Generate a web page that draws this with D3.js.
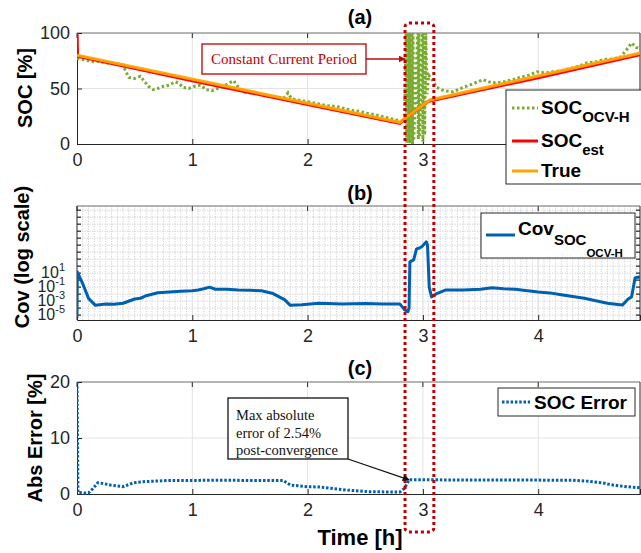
<!DOCTYPE html>
<html>
<head>
<meta charset="utf-8">
<script src="https://cdn.jsdelivr.net/npm/d3@7"></script>
<style>
  html, body { margin: 0; padding: 0; background: #fff; }
  svg { display: block; font-family: "Liberation Sans", Arial, sans-serif; }
</style>
</head>
<body>
<svg id="chart" width="641" height="553"></svg>
<script>
// ---- data ----
const timeTicks = [0, 1, 2, 3, 4];
const socTicks = [0, 50, 100];
const errTicks = [0, 10, 20];
const covTickExponents = [1, -1, -3, -5];

// SOC from the OCV-H model [h, %]
const socOcvH = [
  [0, 77], [0.05, 76], [0.1, 75], [0.15, 74], [0.2, 74.5], [0.25, 73], [0.3, 72.5], [0.35, 72],
  [0.4, 71], [0.42, 66], [0.45, 60], [0.5, 59], [0.55, 61], [0.58, 57], [0.62, 52], [0.66, 49],
  [0.7, 50], [0.75, 52], [0.8, 53], [0.85, 56], [0.88, 55], [0.92, 51], [0.97, 50], [1.02, 52],
  [1.07, 53], [1.12, 49], [1.17, 48], [1.22, 50], [1.27, 52], [1.32, 55], [1.36, 57], [1.4, 51],
  [1.44, 47], [1.5, 46], [1.55, 46], [1.6, 44], [1.65, 43], [1.7, 43], [1.75, 42], [1.8, 42],
  [1.83, 46], [1.86, 41], [1.9, 40], [2.0, 38], [2.1, 36], [2.2, 34], [2.25, 34], [2.3, 32.5],
  [2.4, 30], [2.45, 29.5], [2.5, 28], [2.6, 26], [2.68, 24], [2.75, 22], [2.8, 21], [2.84, 20],
  [2.855, 100], [2.86, 1], [2.865, 100], [2.87, 0], [2.875, 100], [2.88, 2], [2.885, 100],
  [2.89, 0], [2.895, 100], [2.9, 1], [2.905, 100], [2.91, 0], [2.915, 100], [2.92, 3],
  [2.955, 100], [2.96, 4], [2.965, 100], [2.97, 6], [2.995, 100], [3.0, 2], [3.005, 100],
  [3.015, 8], [3.025, 100], [3.035, 45], [3.05, 62], [3.08, 58], [3.12, 51], [3.18, 48],
  [3.26, 47], [3.35, 51], [3.43, 54], [3.52, 58], [3.6, 55], [3.7, 56], [3.78, 58], [3.84, 60],
  [3.92, 62], [3.99, 65], [4.06, 64], [4.13, 65], [4.2, 66], [4.28, 68], [4.35, 70], [4.42, 73],
  [4.5, 74], [4.56, 76], [4.63, 76.5], [4.71, 78], [4.76, 84], [4.81, 91], [4.85, 87], [4.89, 86]
];

// estimated SOC [h, %]
const socEst = [
  [0, 100], [0.004, 79], [0.2, 74.8], [1.0, 57], [2.0, 35.6], [2.8, 18.6], [2.85, 23.5],
  [3.05, 38.5], [4.0, 59.8], [4.89, 80.8]
];

// true SOC [h, %]
const socTrue = [
  [0, 80], [2.8, 19.5], [3.06, 39.6], [4.89, 82]
];

// covariance of the OCV-H SOC [h, value]
const covSoc = [
  [0, 4e-6], [0.003, 15], [0.05, 0.3], [0.1, 2.5e-3], [0.16, 2.5e-4], [0.25, 4e-4], [0.32, 3.5e-4],
  [0.4, 5e-4], [0.5, 2e-3], [0.55, 2.5e-3], [0.6, 6e-3], [0.7, 0.016], [0.8, 0.02], [0.9, 0.025],
  [1.0, 0.03], [1.05, 0.04], [1.1, 0.06], [1.15, 0.1], [1.2, 0.05], [1.3, 0.05], [1.4, 0.04],
  [1.5, 0.035], [1.6, 0.03], [1.7, 0.012], [1.8, 1.6e-3], [1.85, 2.5e-4], [1.95, 3e-4],
  [2.1, 5e-4], [2.3, 4e-4], [2.5, 4.5e-4], [2.65, 3.8e-4], [2.8, 4e-4], [2.84, 6e-5],
  [2.87, 3e-5], [2.88, 1e-4], [2.887, 400], [2.92, 800], [2.945, 3e4], [2.97, 4e4],
  [2.99, 6e4], [3.03, 3e5], [3.04, 1e5], [3.055, 0.1], [3.075, 4e-3], [3.12, 0.012],
  [3.2, 0.04], [3.35, 0.04], [3.5, 0.05], [3.6, 0.08], [3.7, 0.06], [3.8, 0.05], [4.0, 0.02],
  [4.1, 0.015], [4.2, 8e-3], [4.4, 2.5e-3], [4.6, 5e-4], [4.73, 2.7e-4], [4.78, 2e-3],
  [4.81, 4e-3], [4.84, 2], [4.87, 2.8], [4.89, 2.6]
];

// absolute SOC error [h, %]
const socError = [
  [0, 20], [0.008, 0.3], [0.05, 0.2], [0.1, 0.2], [0.14, 1.0], [0.18, 2.0], [0.22, 1.9],
  [0.29, 1.6], [0.4, 1.3], [0.49, 2.0], [0.58, 2.2], [0.78, 2.4], [1.2, 2.45], [1.79, 2.4],
  [1.85, 1.6], [2.0, 1.3], [2.1, 1.25], [2.34, 0.7], [2.54, 0.4], [2.8, 0.35], [2.84, 1.0],
  [2.88, 2.54], [3.2, 2.52], [3.6, 2.5], [4.0, 2.48], [4.3, 2.45], [4.42, 2.3], [4.55, 2.0],
  [4.65, 1.6], [4.77, 1.3], [4.89, 1.1]
];

// ---- layout ----
const svg = d3.select("#chart");
const axisColor = "#262626";
const gridColor = "#e3e3e3";
const left = 77, right = 640;
const tMax = 4.883;

const x = d3.scaleLinear().domain([0, tMax]).range([left, right]);
const yA = d3.scaleLinear().domain([0, 100]).range([144, 33]);
const yB = d3.scaleLog().domain([Math.pow(10, -5.7), Math.pow(10, 10.6)]).range([320, 206]);
const yC = d3.scaleLinear().domain([0, 20]).range([494, 382]);

const defs = svg.append("defs");
function clip(id, y0, y1) {
  defs.append("clipPath").attr("id", id)
    .append("rect").attr("x", left).attr("y", y0).attr("width", right - left).attr("height", y1 - y0);
}
clip("clipA", 30, 147);
clip("clipB", 206, 320);
clip("clipC", 380, 497);

const marker = (id, color) => defs.append("marker").attr("id", id)
  .attr("viewBox", "0 0 10 10").attr("refX", 9).attr("refY", 5)
  .attr("markerWidth", 7).attr("markerHeight", 7).attr("markerUnits", "userSpaceOnUse")
  .attr("orient", "auto")
  .append("path").attr("d", "M0,0 L10,5 L0,10 Z").attr("fill", color);
marker("arrowRed", "#b01010");
marker("arrowBlack", "#111");

// ---- generic axes box ----
function frame(y, yTop, yBot, opts) {
  const g = svg.append("g");
  // major grid
  g.selectAll(".gx").data(timeTicks.filter(d => d > 0)).join("line")
    .attr("x1", d => x(d)).attr("x2", d => x(d)).attr("y1", yTop).attr("y2", yBot)
    .attr("stroke", gridColor).attr("stroke-width", 1);
  if (opts.yGrid) {
    g.selectAll(".gy").data(opts.yGrid).join("line")
      .attr("x1", left).attr("x2", right).attr("y1", d => y(d)).attr("y2", d => y(d))
      .attr("stroke", gridColor).attr("stroke-width", 1);
  }
  // x axis (bottom) with inward ticks
  const xa = svg.append("g").attr("transform", `translate(0,${yBot})`)
    .call(d3.axisBottom(x).tickValues(timeTicks).tickSize(-5).tickPadding(9).tickFormat(d3.format("d")));
  xa.select(".domain").attr("stroke", axisColor);
  xa.selectAll(".tick line").attr("stroke", axisColor);
  xa.selectAll(".tick text").attr("font-size", 18).attr("fill", axisColor)
    .attr("font-family", "Liberation Sans, Arial, sans-serif");
  // top ticks
  g.selectAll(".tt").data(timeTicks).join("line")
    .attr("x1", d => x(d)).attr("x2", d => x(d)).attr("y1", yTop).attr("y2", yTop + 5)
    .attr("stroke", axisColor);
  // box edges
  g.append("line").attr("x1", left).attr("x2", right).attr("y1", yTop).attr("y2", yTop)
    .attr("stroke", "#6a6a6a").attr("stroke-width", 1);
  g.append("line").attr("x1", right).attr("x2", right).attr("y1", yTop).attr("y2", yBot)
    .attr("stroke", axisColor).attr("stroke-width", 1);
  return g;
}

function yAxisLinear(y, ticks) {
  const ya = svg.append("g").attr("transform", `translate(${left},0)`)
    .call(d3.axisLeft(y).tickValues(ticks).tickSize(-5).tickPadding(7).tickFormat(d3.format("d")));
  ya.select(".domain").attr("stroke", axisColor);
  ya.selectAll(".tick line").attr("stroke", axisColor);
  ya.selectAll(".tick text").attr("font-size", 18).attr("fill", axisColor)
    .attr("font-family", "Liberation Sans, Arial, sans-serif");
}

// ---- panel (a): SOC ----
frame(yA, 33, 144, { yGrid: [50] });
yAxisLinear(yA, socTicks);

const lineA = d3.line().x(d => x(d[0])).y(d => yA(d[1]));
const gA = svg.append("g").attr("clip-path", "url(#clipA)");
gA.append("path").datum(socOcvH).attr("d", lineA).attr("fill", "none")
  .attr("stroke", "#77AC30").attr("stroke-width", 3).attr("stroke-dasharray", "2.5,2.5");
gA.append("path").datum(socEst).attr("d", lineA).attr("fill", "none")
  .attr("stroke", "#FF0000").attr("stroke-width", 3.2);
gA.append("path").datum(socTrue).attr("d", lineA).attr("fill", "none")
  .attr("stroke", "#FFA500").attr("stroke-width", 3.2).attr("stroke-opacity", 0.95);

// ---- panel (b): covariance, log scale ----
const gB = svg.append("g");
// minor grid
gB.selectAll(".mgx").data(d3.range(1, Math.floor(tMax / 0.05) + 1).map(i => i * 0.05)).join("line")
  .attr("x1", d => x(d)).attr("x2", d => x(d)).attr("y1", 206).attr("y2", 320)
  .attr("stroke", "#cfcfcf").attr("stroke-width", 1).attr("stroke-dasharray", "1.2,1.3");
const decades = d3.range(-5, 11).map(e => Math.pow(10, e));
gB.selectAll(".mgy").data(decades).join("line")
  .attr("x1", left).attr("x2", right).attr("y1", d => yB(d)).attr("y2", d => yB(d))
  .attr("stroke", "#cfcfcf").attr("stroke-width", 1).attr("stroke-dasharray", "1.2,1.3");
frame(yB, 206, 320, {});
// left axis with decade ticks
gB.append("line").attr("x1", left).attr("x2", left).attr("y1", 206).attr("y2", 320).attr("stroke", axisColor);
gB.selectAll(".ltk").data(decades).join("line")
  .attr("x1", left).attr("x2", left + 4).attr("y1", d => yB(d)).attr("y2", d => yB(d))
  .attr("stroke", axisColor).attr("stroke-width", 1.2);
gB.selectAll(".rtk").data(decades).join("line")
  .attr("x1", right - 4).attr("x2", right).attr("y1", d => yB(d)).attr("y2", d => yB(d))
  .attr("stroke", axisColor).attr("stroke-width", 1.2);
const covLabels = gB.selectAll(".covlab").data(covTickExponents).join("text")
  .attr("x", 65).attr("y", d => yB(Math.pow(10, d)) + 5)
  .attr("text-anchor", "end").attr("font-size", 16).attr("fill", axisColor);
covLabels.append("tspan").text("10");
covLabels.append("tspan").attr("dy", -7).attr("font-size", 11).text(d => String(d));

const lineB = d3.line().x(d => x(d[0])).y(d => yB(d[1]));
svg.append("g").attr("clip-path", "url(#clipB)")
  .append("path").datum(covSoc).attr("d", lineB).attr("fill", "none")
  .attr("stroke", "#0060B0").attr("stroke-width", 3).attr("stroke-linejoin", "round");

// ---- panel (c): absolute error ----
frame(yC, 382, 494, { yGrid: [10] });
yAxisLinear(yC, errTicks);
const lineC = d3.line().x(d => x(d[0])).y(d => yC(d[1]));
svg.append("g").attr("clip-path", "url(#clipC)")
  .append("path").datum(socError).attr("d", lineC).attr("fill", "none")
  .attr("stroke", "#0060B0").attr("stroke-width", 3).attr("stroke-dasharray", "2.5,1.8");

// ---- constant current period marker ----
svg.append("rect").attr("x", x(2.845)).attr("y", 23).attr("width", x(3.095) - x(2.845)).attr("height", 509)
  .attr("rx", 4).attr("fill", "none").attr("stroke", "#C00000").attr("stroke-width", 3)
  .attr("stroke-dasharray", "3,3");

// ---- annotations ----
svg.append("rect").attr("x", 202).attr("y", 44).attr("width", 164).attr("height", 30)
  .attr("fill", "#fff").attr("stroke", "#C00000").attr("stroke-width", 1.3);
svg.append("text").attr("x", 284).attr("y", 64).attr("text-anchor", "middle")
  .attr("font-family", "Liberation Serif, Times New Roman, serif").attr("font-size", 15)
  .attr("fill", "#C00000").text("Constant Current Period");
svg.append("line").attr("x1", 366).attr("y1", 59).attr("x2", 405).attr("y2", 59)
  .attr("stroke", "#b01010").attr("stroke-width", 1.3).attr("marker-end", "url(#arrowRed)");

svg.append("rect").attr("x", 228).attr("y", 398).attr("width", 120).attr("height", 61)
  .attr("fill", "#fff").attr("stroke", "#111").attr("stroke-width", 1.3);
const note = svg.append("text").attr("font-family", "Liberation Serif, Times New Roman, serif")
  .attr("font-size", 14.5).attr("fill", "#111");
["Max absolute", "error of 2.54%", "post-convergence"].forEach((s, i) => {
  note.append("tspan").attr("x", 236).attr("y", 420 + i * 17.5).text(s);
});
svg.append("line").attr("x1", 348).attr("y1", 459).attr("x2", x(2.88)).attr("y2", yC(2.54))
  .attr("stroke", "#111").attr("stroke-width", 1.3).attr("marker-end", "url(#arrowBlack)");

// ---- titles ----
const bold = sel => sel.attr("font-weight", "bold").attr("fill", "#000");
[["(a)", 24], ["(b)", 200], ["(c)", 375]].forEach(([t, yy]) => {
  svg.append("text").attr("x", 360).attr("y", yy).attr("text-anchor", "middle")
    .attr("font-size", 20).call(bold).text(t);
});
[["SOC [%]", 32, 88], ["Cov (log scale)", 29, 257], ["Abs Error [%]", 42, 438]].forEach(([t, xx, yy]) => {
  svg.append("text").attr("transform", `translate(${xx},${yy}) rotate(-90)`)
    .attr("text-anchor", "middle").attr("font-size", 20).call(bold).text(t);
});
svg.append("text").attr("x", 360).attr("y", 545).attr("text-anchor", "middle")
  .attr("font-size", 22).call(bold).text("Time [h]");

// ---- legends ----
// (a)
svg.append("rect").attr("x", 506).attr("y", 90).attr("width", 150).attr("height", 94)
  .attr("fill", "#fff").attr("stroke", "#262626").attr("stroke-width", 1);
const legA = [
  { y: 108, color: "#77AC30", dash: "2.5,2.5", main: "SOC", sub: "OCV-H" },
  { y: 141, color: "#FF0000", dash: null, main: "SOC", sub: "est" },
  { y: 171, color: "#FFA500", dash: null, main: "True", sub: null }
];
legA.forEach(d => {
  svg.append("line").attr("x1", 512).attr("x2", 538).attr("y1", d.y).attr("y2", d.y)
    .attr("stroke", d.color).attr("stroke-width", 3).attr("stroke-dasharray", d.dash);
  const t = svg.append("text").attr("x", 541).attr("y", d.y + 6).attr("font-size", 19).call(bold);
  t.append("tspan").text(d.main);
  if (d.sub) t.append("tspan").attr("dy", 8).attr("font-size", 15).text(d.sub);
});
// (b)
svg.append("rect").attr("x", 481).attr("y", 213).attr("width", 154).attr("height", 45)
  .attr("fill", "#fff").attr("stroke", "#262626").attr("stroke-width", 1);
svg.append("line").attr("x1", 486).attr("x2", 515).attr("y1", 235).attr("y2", 235)
  .attr("stroke", "#0060B0").attr("stroke-width", 3);
const tb = svg.append("text").attr("x", 518).attr("y", 235).attr("font-size", 19).call(bold);
tb.append("tspan").text("Cov");
tb.append("tspan").attr("dy", 10).attr("font-size", 15).text("SOC");
tb.append("tspan").attr("dy", 12).attr("font-size", 11.5).text("OCV-H");
// (c)
svg.append("rect").attr("x", 498).attr("y", 388).attr("width", 137).attr("height", 28)
  .attr("fill", "#fff").attr("stroke", "#262626").attr("stroke-width", 1);
svg.append("line").attr("x1", 502).attr("x2", 530).attr("y1", 402).attr("y2", 402)
  .attr("stroke", "#0060B0").attr("stroke-width", 3).attr("stroke-dasharray", "2.5,1.8");
svg.append("text").attr("x", 534).attr("y", 409).attr("font-size", 19).call(bold).text("SOC Error");
</script>
</body>
</html>
